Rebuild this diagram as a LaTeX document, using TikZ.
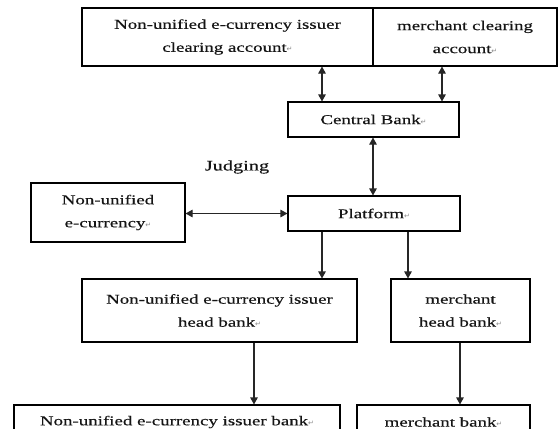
\documentclass[tikz,border=0pt]{standalone}
\usepackage{fontspec}
\setmainfont{Liberation Serif}[FakeStretch=1.4,FakeBold=0.35]
\newfontfamily\dejavu{DejaVu Sans}
\usetikzlibrary{arrows.meta}

\definecolor{inkgray}{HTML}{151515}
\definecolor{retgray}{HTML}{8A8A8A}
% paragraph-return mark printed after each label
\newcommand{\retmark}{\textcolor{retgray}{\dejavu\fontsize{7}{7}\selectfont ↵}}

\tikzset{
  box/.style={draw=black, line width=1.1pt, inner sep=0pt, align=center,
    text=inkgray, font=\fontsize{13.5}{23}\selectfont},
  link/.style={draw=black!85, line width=1.1pt,
    -{Triangle[length=7pt,width=7.5pt]}},
  dlink/.style={link, {Triangle[length=7pt,width=7.5pt]}-{Triangle[length=7pt,width=7.5pt]}},
  tag/.style={text=inkgray, font=\fontsize{14.5}{16}\selectfont, inner sep=0pt}
}

\begin{document}
\begin{tikzpicture}[x=1pt,y=-1pt]
  \useasboundingbox (0,0) rectangle (558,429);
  \clip (0,0) rectangle (558,429);
  \fill[white] (0,0) rectangle (558,429);

  % clearing accounts
  \node[box, minimum width=291pt, minimum height=58pt] (ia) at (227.5,37)
    {Non-unified e-currency issuer\\clearing account\retmark};
  \node[box, minimum width=184pt, minimum height=58pt] (ma) at (465,37)
    {merchant clearing\\account\retmark};

  % central bank and platform
  \node[box, minimum width=171pt, minimum height=35pt] (cb) at (373.5,119.5)
    {Central Bank\retmark};
  \node[box, minimum width=172pt, minimum height=35pt] (pf) at (374,213.5)
    {Platform\retmark};

  % non-unified e-currency
  \node[box, minimum width=154pt, minimum height=59pt] (ne) at (108,212.5)
    {Non-unified\\e-currency\retmark};
  \node[tag] (jd) at (237,167) {Judging};

  % head banks
  \node[box, minimum width=275pt, minimum height=63pt] (ih) at (219.5,310.5)
    {Non-unified e-currency issuer\\head bank\retmark};
  \node[box, minimum width=139pt, minimum height=63pt] (mh) at (460.5,310.5)
    {merchant\\head bank\retmark};

  % banks (run past the lower edge)
  \node[box, minimum width=326pt, minimum height=34pt] (ib) at (177,422)
    {Non-unified e-currency issuer bank\retmark};
  \node[box, minimum width=173pt, minimum height=34pt] (mb) at (443.5,422)
    {merchant bank\retmark};

  % connector columns
  \coordinate (xa) at (322,0);
  \coordinate (xb) at (442,0);
  \coordinate (xc) at (373,0);
  \coordinate (xd) at (408,0);
  \coordinate (xe) at (254,0);
  \coordinate (xf) at (460,0);

  \draw[dlink] (ia.south -| xa) -- (cb.north -| xa);
  \draw[dlink] (ma.south -| xb) -- (cb.north -| xb);
  \draw[dlink] (cb.south -| xc) -- (pf.north -| xc);
  \draw[dlink] (ne.east |- pf.west) -- (pf.west);
  \draw[link] (pf.south -| xa) -- (ih.north -| xa);
  \draw[link] (pf.south -| xd) -- (mh.north -| xd);
  \draw[link] (ih.south -| xe) -- (ib.north -| xe);
  \draw[link] (mh.south -| xf) -- (mb.north -| xf);
\end{tikzpicture}
\end{document}
